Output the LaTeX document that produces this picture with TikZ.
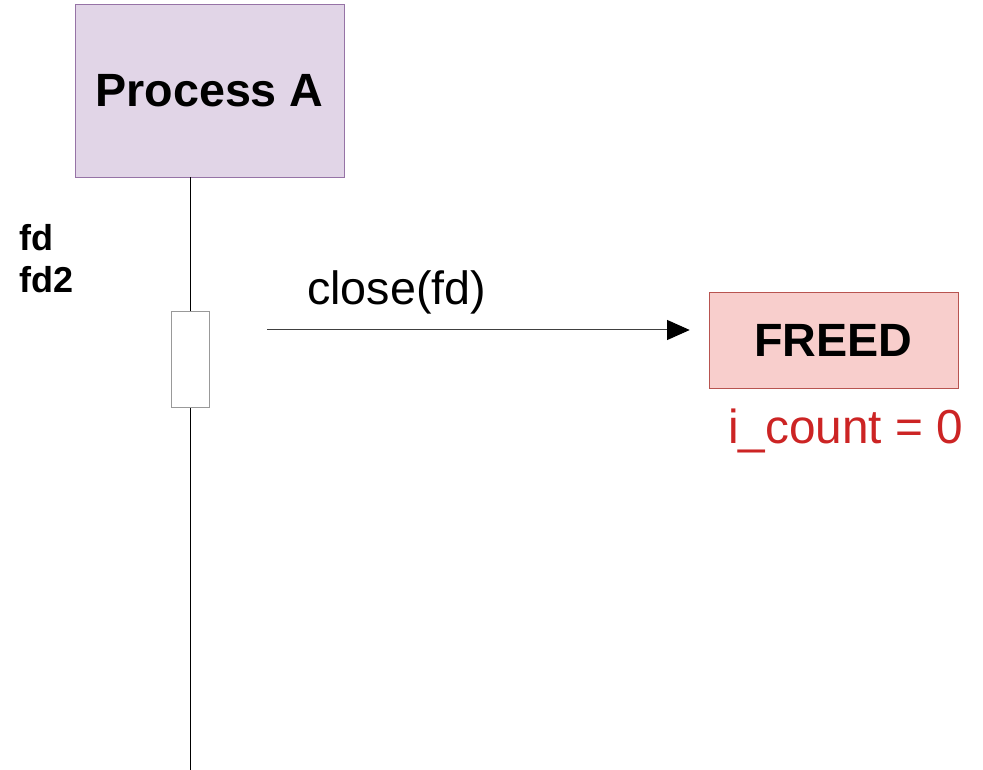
\documentclass[tikz,border=0pt]{standalone}
\usepackage{fontspec}
\setmainfont{Liberation Sans}
\usepackage{xcolor}
\usetikzlibrary{
  arrows.meta,
  positioning
}
\definecolor{roxo}{HTML}{E1D5E7}
\definecolor{roxoborda}{HTML}{9673A6}
\definecolor{rosa}{HTML}{F8CECC}
\definecolor{rosaborda}{HTML}{B85450}
\definecolor{vermelho}{HTML}{CC2424}

\begin{document}
\begin{tikzpicture}[
      x=0.75pt, y=-0.75pt,
      processo/.style={draw=roxoborda, fill=roxo, minimum width=201.75pt, minimum height=129.75pt, inner sep=0pt, font=\fontsize{35}{42}\selectfont\bfseries},
      ativacao/.style={draw=gray!80, fill=white, minimum width=28.5pt, minimum height=72pt, inner sep=0pt},
      estado/.style={draw=rosaborda, fill=rosa, minimum width=186.75pt, minimum height=72pt, inner sep=0pt, font=\fontsize{35}{42}\selectfont\bfseries},
      rotulo/.style={inner sep=0pt, font=\fontsize{35}{42}\selectfont},
      seta/.style={-{Triangle[length=17pt, width=15pt, color=black]}, line width=0.75pt, black!75}
  ]
      \useasboundingbox (0,0) rectangle (983,770);

      % Processo
      \node[processo] (procA) at (209.5,90.5) {Process A};
      \coordinate (fim) at (190,770);
      \draw[line width=0.75pt] (procA.south -| fim) -- (fim);
      \node[ativacao] (ativ) at (190,359) {};

      \node[anchor=base west, align=left, inner sep=0pt, font=\fontsize{27}{32}\selectfont\bfseries] (fds) at (19,293) {fd\\fd2};

      % Chamada
      \coordinate (origem) at (267,330);
      \node[estado] (freed) at (833.5,340) {FREED};
      \draw[seta, shorten >=14.25pt] (origem) -- (origem -| freed.west);
      \node[rotulo, anchor=base west] (chamada) at (307,305) {close(fd)};
      \node[rotulo, text=vermelho, font=\fontsize{35.8}{42}\selectfont, anchor=base west] (icount) at (728,443) {i\_count = 0};
  \end{tikzpicture}
\end{document}
